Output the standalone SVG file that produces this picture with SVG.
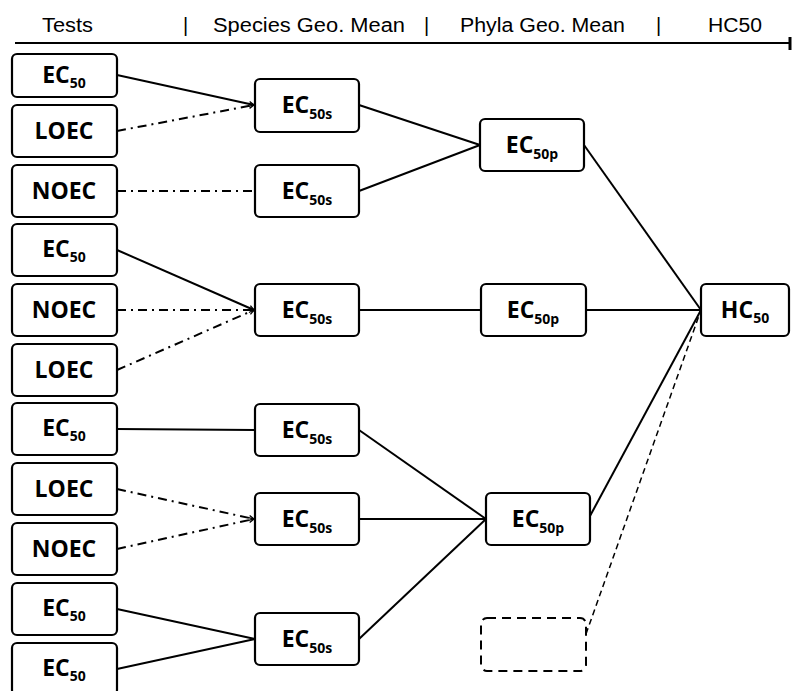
<svg xmlns="http://www.w3.org/2000/svg" width="793" height="691" viewBox="0 0 793 691">
<style>
.hdr{font-family:"Liberation Sans",Arial,sans-serif;font-size:20px;fill:#000}
.box{fill:#fff;stroke:#000;stroke-width:2.2}
.dbox{fill:none;stroke:#000;stroke-width:2;stroke-dasharray:9,6}
.lbl{font-family:"Open Sans","Noto Sans",sans-serif;font-weight:bold;font-size:23px;fill:#000;text-anchor:middle}
.sub{font-size:14px}
.solid{stroke:#000;stroke-width:2;fill:none}
.dd{stroke:#000;stroke-width:2;fill:none;stroke-dasharray:9,5,2,5}
.dash{stroke:#000;stroke-width:1.5;fill:none;stroke-dasharray:6,4}
</style>
<defs>
<marker id="arr" markerWidth="7" markerHeight="7" refX="6" refY="3.5" orient="auto" markerUnits="userSpaceOnUse">
<path d="M1,1 L6,3.5 L1,6" fill="none" stroke="#000" stroke-width="1.3"/>
</marker>
</defs>
<g id="header">
<text class="hdr" x="42" y="32" textLength="51" lengthAdjust="spacingAndGlyphs">Tests</text>
<text class="hdr" x="183" y="32">|</text>
<text class="hdr" x="213" y="32" textLength="192" lengthAdjust="spacingAndGlyphs">Species Geo. Mean</text>
<text class="hdr" x="424" y="32">|</text>
<text class="hdr" x="460" y="32" textLength="165" lengthAdjust="spacingAndGlyphs">Phyla Geo. Mean</text>
<text class="hdr" x="656" y="32">|</text>
<text class="hdr" x="708" y="32" textLength="54" lengthAdjust="spacingAndGlyphs">HC50</text>
<line x1="15" y1="43" x2="789" y2="43" stroke="#000" stroke-width="2"/>
<line x1="790" y1="37" x2="790" y2="50" stroke="#000" stroke-width="3"/>
</g>
<g id="connectors">
<line class="solid" x1="117" y1="75" x2="254" y2="105" marker-end="url(#arr)"/>
<line class="dd" x1="117" y1="131" x2="254" y2="105" marker-end="url(#arr)"/>
<line class="dd" x1="117" y1="191" x2="255" y2="191"/>
<line class="solid" x1="359" y1="105" x2="480" y2="145"/>
<line class="solid" x1="359" y1="191" x2="480" y2="145"/>
<line class="solid" x1="584" y1="145" x2="701" y2="310"/>
<line class="solid" x1="117" y1="250" x2="254" y2="310" marker-end="url(#arr)"/>
<line class="dd" x1="117" y1="310" x2="254" y2="310" marker-end="url(#arr)"/>
<line class="dd" x1="117" y1="370" x2="254" y2="310" marker-end="url(#arr)"/>
<line class="solid" x1="359" y1="310" x2="481" y2="310"/>
<line class="solid" x1="586" y1="310" x2="701" y2="310"/>
<line class="solid" x1="117" y1="429" x2="255" y2="430"/>
<line class="dd" x1="117" y1="489" x2="254" y2="519" marker-end="url(#arr)"/>
<line class="dd" x1="117" y1="549" x2="254" y2="519" marker-end="url(#arr)"/>
<line class="solid" x1="359" y1="430" x2="486" y2="519"/>
<line class="solid" x1="359" y1="519" x2="486" y2="519"/>
<line class="solid" x1="359" y1="639" x2="486" y2="519"/>
<line class="solid" x1="117" y1="609" x2="255" y2="639"/>
<line class="solid" x1="117" y1="669" x2="255" y2="639"/>
<line class="solid" x1="590" y1="516" x2="701" y2="310"/>
<line class="dash" x1="586" y1="634" x2="701" y2="310"/>
</g>
<g id="t1"><rect class="box" x="12" y="54" width="105" height="43" rx="5"/><text class="lbl" x="64" y="83">EC<tspan class="sub" dy="5">50</tspan></text></g>
<g id="t2"><rect class="box" x="12" y="105" width="105" height="52" rx="5"/><text class="lbl" x="64" y="139">LOEC</text></g>
<g id="t3"><rect class="box" x="12" y="165" width="105" height="52" rx="5"/><text class="lbl" x="64" y="199">NOEC</text></g>
<g id="t4"><rect class="box" x="12" y="224" width="105" height="52" rx="5"/><text class="lbl" x="64" y="257">EC<tspan class="sub" dy="5">50</tspan></text></g>
<g id="t5"><rect class="box" x="12" y="284" width="105" height="52" rx="5"/><text class="lbl" x="64" y="318">NOEC</text></g>
<g id="t6"><rect class="box" x="12" y="344" width="105" height="52" rx="5"/><text class="lbl" x="64" y="378">LOEC</text></g>
<g id="t7"><rect class="box" x="12" y="403" width="105" height="52" rx="5"/><text class="lbl" x="64" y="436">EC<tspan class="sub" dy="5">50</tspan></text></g>
<g id="t8"><rect class="box" x="12" y="463" width="105" height="52" rx="5"/><text class="lbl" x="64" y="497">LOEC</text></g>
<g id="t9"><rect class="box" x="12" y="523" width="105" height="52" rx="5"/><text class="lbl" x="64" y="557">NOEC</text></g>
<g id="t10"><rect class="box" x="12" y="583" width="105" height="52" rx="5"/><text class="lbl" x="64" y="616">EC<tspan class="sub" dy="5">50</tspan></text></g>
<g id="t11"><rect class="box" x="12" y="643" width="105" height="52" rx="5"/><text class="lbl" x="64" y="676">EC<tspan class="sub" dy="5">50</tspan></text></g>
<g id="s1"><rect class="box" x="255" y="79" width="104" height="53" rx="5"/><text class="lbl" x="307" y="113">EC<tspan class="sub" dy="6">50s</tspan></text></g>
<g id="s2"><rect class="box" x="255" y="165" width="104" height="52" rx="5"/><text class="lbl" x="307" y="199">EC<tspan class="sub" dy="6">50s</tspan></text></g>
<g id="s3"><rect class="box" x="255" y="284" width="104" height="52" rx="5"/><text class="lbl" x="307" y="318">EC<tspan class="sub" dy="6">50s</tspan></text></g>
<g id="s4"><rect class="box" x="255" y="404" width="104" height="52" rx="5"/><text class="lbl" x="307" y="438">EC<tspan class="sub" dy="6">50s</tspan></text></g>
<g id="s5"><rect class="box" x="255" y="493" width="104" height="52" rx="5"/><text class="lbl" x="307" y="527">EC<tspan class="sub" dy="6">50s</tspan></text></g>
<g id="s6"><rect class="box" x="255" y="613" width="104" height="52" rx="5"/><text class="lbl" x="307" y="647">EC<tspan class="sub" dy="6">50s</tspan></text></g>
<g id="p1"><rect class="box" x="480" y="119" width="104" height="52" rx="5"/><text class="lbl" x="532" y="153">EC<tspan class="sub" dy="6">50p</tspan></text></g>
<g id="p2"><rect class="box" x="481" y="284" width="105" height="52" rx="5"/><text class="lbl" x="533" y="318">EC<tspan class="sub" dy="6">50p</tspan></text></g>
<g id="p3"><rect class="box" x="486" y="493" width="104" height="52" rx="5"/><text class="lbl" x="538" y="527">EC<tspan class="sub" dy="6">50p</tspan></text></g>
<g id="pdash"><rect class="dbox" x="481" y="618" width="105" height="53" rx="6"/></g>
<g id="hc50"><rect class="box" x="701" y="284" width="88" height="52" rx="5"/><text class="lbl" x="745" y="318">HC<tspan class="sub" dy="5">50</tspan></text></g>
</svg>
